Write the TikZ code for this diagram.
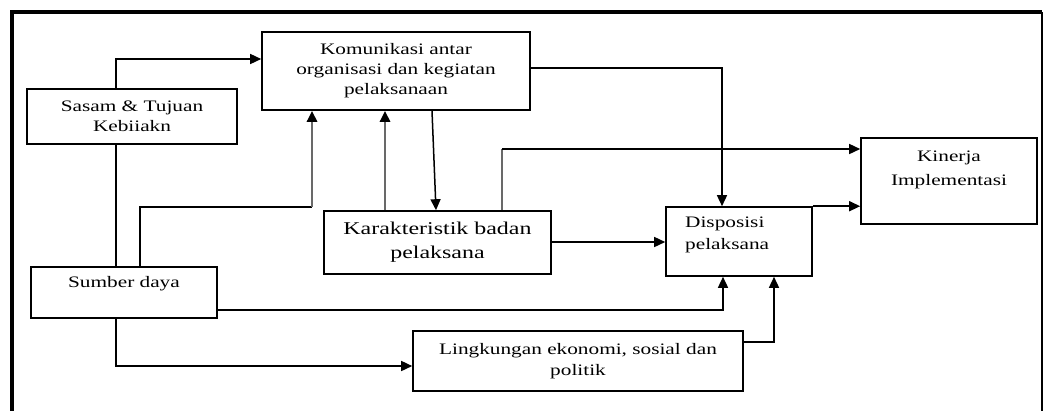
\documentclass[tikz,border=0pt]{standalone}
\usepackage{fontspec}
\setmainfont{Liberation Serif}[FakeStretch=1.33]
\usetikzlibrary{arrows.meta}
\tikzset{
  box/.style={draw, line width=1.6pt, inner sep=0pt, align=center,
    font=\fontsize{16}{20}\selectfont},
  txt/.style={inner sep=0pt, font=\fontsize{16}{21}\selectfont},
  ln/.style={line width=1.5pt},
  arr/.style={ln, -{Triangle[length=11pt,width=10pt]}},
  gln/.style={line width=2.6pt, draw={rgb,255:red,105;green,105;blue,105}},
  garr/.style={gln, -{Triangle[length=11pt,width=10pt,color=black]}},
}
\begin{document}
\begin{tikzpicture}[x=1pt,y=-1pt]
\useasboundingbox (0,0) rectangle (1046,410);
% frame
\draw[line width=4pt] (12,412) -- (12,12) -- (1042,12);
\draw[line width=2pt] (1042,12) -- (1042,412);
% boxes
\node[box, minimum width=210, minimum height=55] (sasam) at (132,116.5) {Sasam \& Tujuan\\Kebiiakn};
\node[box, minimum width=268, minimum height=78] (kom) at (396,71) {Komunikasi antar\\organisasi dan kegiatan\\pelaksanaan};
\node[box, minimum width=176, minimum height=86] (kin) at (949,181) {};
\node[txt, anchor=north, align=center, font=\fontsize{16}{24}\selectfont] (kint) at (949,151) {Kinerja\\Implementasi};
\node[box, minimum width=186, minimum height=51] (sum) at (124,292.5) {};
\node[txt, anchor=north] (sumt) at (124,276) {Sumber daya};
\node[box, minimum width=227, minimum height=63, font=\fontsize{18}{24}\selectfont] (kar) at (437.5,242.5) {Karakteristik badan\\pelaksana};
\node[box, minimum width=146, minimum height=69] (dis) at (739,241.5) {};
\node[txt, anchor=north west, align=left, font=\fontsize{16}{22}\selectfont] (dist) at (685,217) {Disposisi\\pelaksana};
\node[box, minimum width=330, minimum height=60, font=\fontsize{16}{21}\selectfont] (lin) at (578,361) {Lingkungan ekonomi, sosial dan\\politik};
% connectors
\draw[arr] (sasam.north -| 116,0) |- (kom.west |- 0,59);
\draw[ln] (sasam.south -| 116,0) -- (sum.north -| 116,0);
\coordinate (c3) at (312,207);
\draw[ln] (sum.north -| 140,0) |- (c3);
\draw[garr] (c3) -- (kom.south -| c3);
\draw[garr] (kar.north -| 385,0) -- (kom.south -| 385,0);
\draw[arr] (kom.south -| 432,0) -- (kar.north -| 436,0);
\coordinate (c6) at (502,149);
\draw[gln] (kar.north -| c6) -- (c6);
\draw[arr] (c6) -- (kin.west |- c6);
\draw[arr] (kom.east |- 0,68) -| (dis.north -| 722,0);
\draw[arr] (kar.east |- 0,242) -- (dis.west |- 0,242);
\draw[arr] (dis.north east) -- (kin.west |- dis.north);
\draw[arr] (sum.east |- 0,310) -| (dis.south -| 723,0);
\draw[arr] (sum.south -| 116,0) |- (lin.west |- 0,366);
\draw[arr] (lin.east |- 0,342) -| (dis.south -| 774,0);
\end{tikzpicture}
\end{document}
